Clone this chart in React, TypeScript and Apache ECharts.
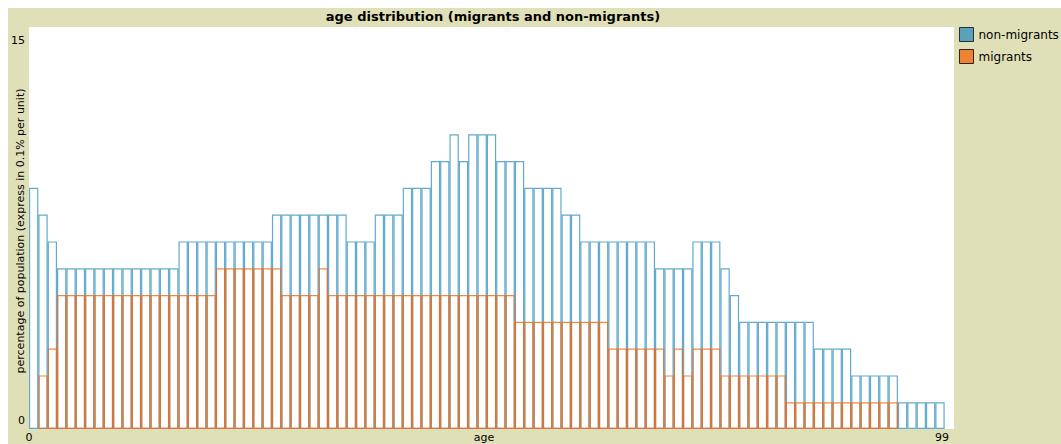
import React, { useEffect, useRef } from "react";
import * as echarts from "echarts";

// age bins 0..98 (bar i covers age i..i+1), axis runs 0..99
const ageBins = [
  "0","1","2","3","4","5","6","7","8","9","10","11","12","13","14","15","16","17","18","19",
  "20","21","22","23","24","25","26","27","28","29","30","31","32","33","34","35","36","37","38","39",
  "40","41","42","43","44","45","46","47","48","49","50","51","52","53","54","55","56","57","58","59",
  "60","61","62","63","64","65","66","67","68","69","70","71","72","73","74","75","76","77","78","79",
  "80","81","82","83","84","85","86","87","88","89","90","91","92","93","94","95","96","97","98",
];

const nonMigrants = [
  9, 8, 7, 6, 6, 6, 6, 6, 6, 6, 6, 6, 6, 6, 6, 6, 7, 7, 7, 7,
  7, 7, 7, 7, 7, 7, 8, 8, 8, 8, 8, 8, 8, 8, 7, 7, 7, 8, 8, 8,
  9, 9, 9, 10, 10, 11, 10, 11, 11, 11, 10, 10, 10, 9, 9, 9, 9, 8, 8, 7,
  7, 7, 7, 7, 7, 7, 7, 6, 6, 6, 6, 7, 7, 7, 6, 5, 4, 4, 4, 4,
  4, 4, 4, 4, 3, 3, 3, 3, 2, 2, 2, 2, 2, 1, 1, 1, 1, 1,
];

const migrants = [
  0, 2, 3, 5, 5, 5, 5, 5, 5, 5, 5, 5, 5, 5, 5, 5, 5, 5, 5, 5,
  6, 6, 6, 6, 6, 6, 6, 5, 5, 5, 5, 6, 5, 5, 5, 5, 5, 5, 5, 5,
  5, 5, 5, 5, 5, 5, 5, 5, 5, 5, 5, 5, 4, 4, 4, 4, 4, 4, 4, 4,
  4, 4, 3, 3, 3, 3, 3, 3, 2, 3, 2, 3, 3, 3, 2, 2, 2, 2, 2, 2,
  2, 1, 1, 1, 1, 1, 1, 1, 1, 1, 1, 1, 1, 0, 0, 0, 0, 0,
];

const xTicks = [0, 99];
const yTicks = [0, 15];

const BLUE = "#2d8dbe";
const ORANGE = "#f16913";
const BEIGE = "#e0e0b8";
const FONT = "DejaVu Sans";

export default function App() {
  const ref = useRef<HTMLDivElement>(null);

  useEffect(() => {
    if (!ref.current) return;
    const chart = echarts.init(ref.current, undefined, { renderer: "svg" });
    const toBar = (arr: number[]) => arr.map((v) => (v > 0 ? v : null));
    chart.setOption({
      animation: false,
      backgroundColor: BEIGE,
      textStyle: { fontFamily: FONT },
      title: {
        text: "age distribution (migrants and non-migrants)",
        left: 485,
        top: 2,
        padding: 0,
        textAlign: "center",
        textStyle: { fontFamily: FONT, fontSize: 13, fontWeight: "bold", color: "#000" },
      },
      legend: {
        orient: "vertical",
        left: 951,
        top: 19,
        padding: 0,
        itemWidth: 14,
        itemHeight: 14,
        itemGap: 7,
        icon: "rect",
        textStyle: { fontFamily: FONT, fontSize: 12, color: "#000" },
        data: [
          { name: "non-migrants", itemStyle: { color: BLUE, borderColor: "#000", borderWidth: 1 } },
          { name: "migrants", itemStyle: { color: ORANGE, borderColor: "#000", borderWidth: 1 } },
        ],
      },
      grid: {
        left: 21,
        top: 19,
        width: 925,
        height: 402,
        containLabel: false,
        outerBoundsMode: "none",
        show: true,
        backgroundColor: "#fff",
        borderWidth: 0,
      },
      xAxis: [
        {
          type: "category",
          data: ageBins,
          boundaryGap: true,
          axisLine: { show: false },
          axisTick: { show: false },
          axisLabel: { show: false },
          splitLine: { show: false },
        },
        {
          type: "value",
          min: xTicks[0],
          max: xTicks[1],
          interval: xTicks[1] - xTicks[0],
          position: "bottom",
          name: "age",
          nameLocation: "middle",
          nameGap: 3,
          nameMoveOverlap: false,
          nameTextStyle: {
            fontFamily: FONT,
            fontSize: 11,
            color: "#000",
            verticalAlign: "top",
            padding: [0, 15, 0, 0],
          },
          axisLine: { show: false },
          axisTick: { show: false },
          splitLine: { show: false },
          axisLabel: {
            margin: 3,
            fontFamily: FONT,
            fontSize: 11,
            color: "#000",
            formatter: (v: number) => (v === xTicks[1] ? "{r|" + v + "}" : "{n|" + v + "}"),
            rich: {
              r: { fontFamily: FONT, fontSize: 11, color: "#000", padding: [0, 24, 0, 0] },
              n: { fontFamily: FONT, fontSize: 11, color: "#000" },
            },
          },
        },
      ],
      yAxis: {
        type: "value",
        min: yTicks[0],
        max: yTicks[1],
        interval: yTicks[1] - yTicks[0],
        name: "percentage of population (express in 0.1% per unit)",
        nameLocation: "middle",
        nameGap: 3,
        nameMoveOverlap: false,
        nameTextStyle: {
          fontFamily: FONT,
          fontSize: 11,
          color: "#000",
          padding: [0, 6, 0, 0],
        },
        axisLine: { show: false },
        axisTick: { show: false },
        splitLine: { show: false },
        axisLabel: {
          margin: 4,
          fontFamily: FONT,
          fontSize: 11,
          color: "#000",
          formatter: (v: number) => (v === yTicks[1] ? "{t|" + v + "}" : "{b|" + v + "}"),
          rich: {
            t: { fontFamily: FONT, fontSize: 11, color: "#000", padding: [26, 0, 0, 0] },
            b: { fontFamily: FONT, fontSize: 11, color: "#000", padding: [0, 0, 18, 0] },
          },
        },
      },
      series: [
        {
          name: "non-migrants",
          type: "bar",
          xAxisIndex: 0,
          data: toBar(nonMigrants),
          barWidth: "100%",
          barGap: "-100%",
          itemStyle: { color: "rgba(255,255,255,0)", borderColor: BLUE, borderWidth: 1.2, opacity: 0.75 },
          emphasis: { disabled: true },
        },
        {
          name: "migrants",
          type: "bar",
          xAxisIndex: 0,
          data: toBar(migrants),
          barWidth: "100%",
          barGap: "-100%",
          itemStyle: { color: "rgba(255,255,255,0)", borderColor: ORANGE, borderWidth: 1.2, opacity: 0.8 },
          emphasis: { disabled: true },
        },
      ],
    });
    return () => chart.dispose();
  }, []);

  return (
    <div
      ref={ref}
      style={{ position: "fixed", left: 8, top: 8, width: 1053, height: 436 }}
    />
  );
}
